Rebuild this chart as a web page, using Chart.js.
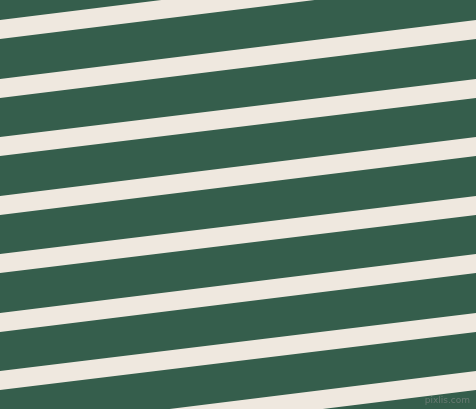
<!DOCTYPE html>
<html>
<head>
<meta charset="utf-8">
<script src="https://cdn.jsdelivr.net/npm/chart.js@4/dist/chart.umd.min.js"></script>
<style>
  html, body { margin: 0; padding: 0; background: #355e4c; overflow: hidden; }
  #wrap { width: 476px; height: 409px; position: relative; }
</style>
</head>
<body>
<div id="wrap"><canvas id="stripes"></canvas></div>
<script>
const xLeft = 0;
const xRight = 476;
const topLeft = [20, 79, 137, 196, 254, 313, 371, 430];
const topRight = [-39, 20, 79, 137, 196, 254, 313, 371];
const bottomLeft = [39, 98, 156, 215, 273, 332, 390, 449];
const bottomRight = [-20, 39, 98, 156, 215, 273, 332, 390];

const green = '#355e4c';
const cream = '#efe8df';

const datasets = [];
topLeft.forEach((t, i) => {
    datasets.push({
        data: [{ x: xLeft, y: t }, { x: xRight, y: topRight[i] }],
        borderWidth: 0,
        pointRadius: 0,
        fill: false
    });
    datasets.push({
        data: [{ x: xLeft, y: bottomLeft[i] }, { x: xRight, y: bottomRight[i] }],
        borderWidth: 0,
        pointRadius: 0,
        backgroundColor: cream,
        fill: '-1'
    });
});

const watermark = {
    id: 'watermark',
    afterDraw(chart) {
        const c = chart.ctx;
        c.save();
        c.font = '9px "DejaVu Sans"';
        c.fillStyle = 'rgba(120, 130, 125, 0.75)';
        c.textAlign = 'right';
        c.textBaseline = 'alphabetic';
        c.fillText('pixlis.com', 470, 403);
        c.restore();
    }
};

document.addEventListener('DOMContentLoaded', () => {
    const ctx = document.getElementById('stripes').getContext('2d');
    new Chart(ctx, {
        type: 'line',
        data: { datasets },
        options: {
            responsive: true,
            maintainAspectRatio: false,
            animation: false,
            layout: { padding: 0 },
            plugins: {
                legend: { display: false },
                tooltip: { enabled: false }
            },
            scales: {
                x: { type: 'linear', min: 0, max: 476, display: false },
                y: { type: 'linear', min: 0, max: 409, reverse: true, display: false }
            }
        },
        plugins: [watermark]
    });
});
</script>
</body>
</html>
